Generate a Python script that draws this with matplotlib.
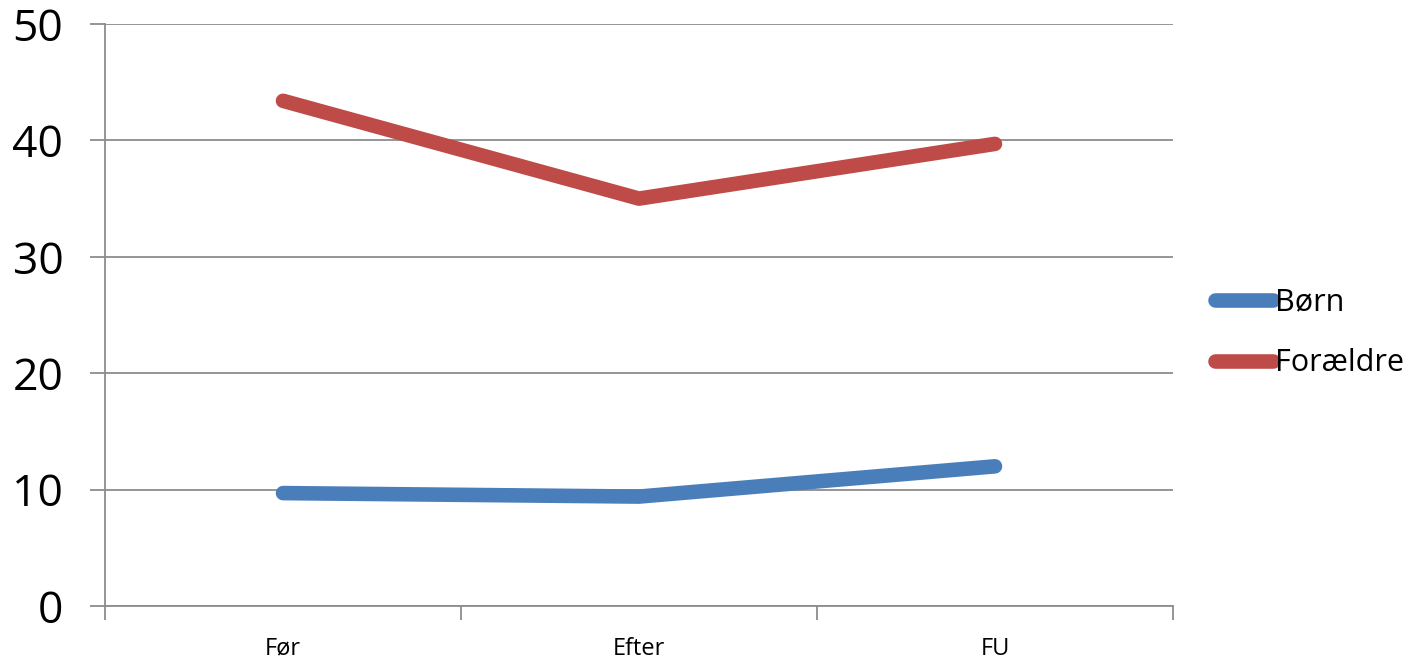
import matplotlib.pyplot as plt
from matplotlib.ticker import FixedLocator, NullFormatter

# Data
categories = ['Før', 'Efter', 'FU']
born = [9.7, 9.4, 12.0]
foraeldre = [43.4, 35.0, 39.7]
yticks = [0, 10, 20, 30, 40, 50]

plt.rcParams['font.family'] = ['Open Sans', 'DejaVu Sans']

fig = plt.figure(figsize=(14.27, 6.62), dpi=100)
ax = fig.add_axes([105 / 1427, 1 - 606 / 662, (1173 - 105) / 1427, (606 - 24) / 662])

x = range(len(categories))
ax.plot(x, born, color='#4A7EBB', lw=10.5, solid_capstyle='round', solid_joinstyle='round', label='Børn')
ax.plot(x, foraeldre, color='#BE4B48', lw=10.5, solid_capstyle='round', solid_joinstyle='round', label='Forældre')

ax.set_xlim(-0.5, len(categories) - 0.5)
ax.set_ylim(0, 50)

# y axis
ax.set_yticks(yticks)
ax.set_yticklabels([str(v) for v in yticks], fontsize=32)
ax.tick_params(axis='y', length=11, width=1.3, color='#8c8c8c', pad=19, direction='out')
ax.grid(axis='y', color='#8c8c8c', lw=1.3)
ax.set_axisbelow(True)

# x axis: category labels centred, ticks on boundaries
ax.set_xticks(list(x))
ax.set_xticklabels(categories, fontsize=17)
ax.tick_params(axis='x', which='major', length=0, pad=22)
ax.xaxis.set_minor_locator(FixedLocator([-0.5, 0.5, 1.5, 2.5]))
ax.xaxis.set_minor_formatter(NullFormatter())
ax.tick_params(axis='x', which='minor', length=10, width=1.3, color='#8c8c8c', direction='out')

for s in ['top', 'right']:
    ax.spines[s].set_visible(False)
for s in ['left', 'bottom']:
    ax.spines[s].set_color('#8c8c8c')
    ax.spines[s].set_linewidth(1.3)

leg = fig.legend(loc='center left', bbox_to_anchor=(1203 / 1427, 1 - 333 / 662), frameon=False,
                 fontsize=22, handlelength=1.9, handletextpad=0.05, labelspacing=1.0, borderaxespad=0)

fig.savefig('out.png', dpi=100)
